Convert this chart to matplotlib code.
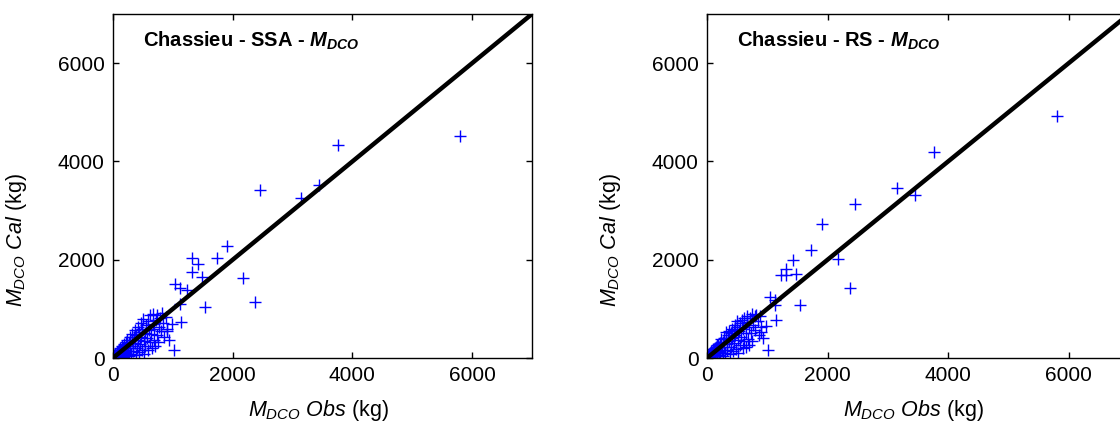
import numpy as np
import matplotlib.pyplot as plt

plt.rcParams['font.family'] = ['Liberation Sans', 'DejaVu Sans']
plt.rcParams['mathtext.fontset'] = 'custom'
plt.rcParams['mathtext.rm'] = 'Liberation Sans'
plt.rcParams['mathtext.it'] = 'Liberation Sans:italic'
plt.rcParams['mathtext.bf'] = 'Liberation Sans:bold'
plt.rcParams['mathtext.bfit'] = 'Liberation Sans:italic:bold'

## observed masses (kg) and the two calibrations
obs = [5, 10, 15, 20, 25, 30, 40, 45, 50, 60, 65, 70, 80, 85, 90, 100, 105, 110, 120, 125,
       130, 140, 150, 155, 160, 170, 180, 190, 195, 200, 210, 220, 230, 240, 250, 260, 270,
       280, 290, 300, 310, 320, 330, 340, 350, 360, 370, 380, 390, 400, 410, 420, 430, 440,
       450, 460, 470, 480, 490, 500, 510, 520, 530, 540, 550, 560, 580, 590, 600, 610, 620,
       640, 650, 660, 670, 680, 690, 700, 720, 730, 740, 750, 770, 790, 800, 820, 840, 860,
       880, 900, 902, 930, 985, 1013, 1141, 1040, 1120, 1230, 1120, 1315, 1426, 1315, 1482,
       1733, 1900, 2178, 2373, 1537, 2450, 3146, 3447, 3760, 5800]
cal_ssa = [10, 30, 5, 60, 15, 40, 90, 20, 70, 110, 30, 120, 50, 150, 80, 170, 40, 130, 200, 60,
           160, 90, 240, 110, 30, 210, 130, 280, 60, 170, 320, 100, 250, 360, 150, 40, 300,
           420, 200, 90, 360, 480, 250, 140, 430, 560, 310, 60, 470, 200, 640, 370, 120, 520,
           280, 720, 430, 170, 600, 800, 340, 80, 500, 250, 680, 410, 750, 170, 560, 330, 870,
           480, 200, 700, 900, 360, 600, 250, 780, 470, 880, 330, 640, 820, 540, 910, 720, 430,
           830, 600, 543, 373, 700, 170, 740, 1510, 1420, 1385, 1106, 2030, 1907, 1756, 1654,
           2029, 2285, 1622, 1146, 1032, 3426, 3263, 3514, 4330, 4520]
cal_rs = [15, 40, 8, 50, 20, 70, 80, 25, 100, 90, 40, 140, 60, 130, 110, 190, 50, 150, 180, 80,
          210, 100, 230, 140, 40, 260, 150, 270, 70, 220, 300, 130, 280, 380, 170, 50, 330,
          400, 230, 110, 400, 520, 280, 160, 470, 540, 340, 80, 500, 230, 600, 400, 150, 560,
          300, 680, 470, 190, 640, 760, 360, 100, 540, 270, 720, 430, 780, 200, 600, 350, 820,
          500, 220, 740, 860, 380, 640, 270, 820, 500, 900, 350, 680, 860, 570, 880, 760, 460,
          850, 640, 522, 407, 658, 170, 767, 1250, 1190, 1690, 1080, 1805, 1994, 1690, 1703,
          2198, 2720, 2008, 1418, 1079, 3141, 3460, 3324, 4190, 4920]

panels = [('SSA', cal_ssa), ('RS', cal_rs)]
positions = [[113/1120, 65/423, 419/1120, 344/423],
             [707/1120, 65/423, 422/1120, 344/423]]
lim = 7000

fig = plt.figure(figsize=(11.2, 4.23), dpi=100)

for (name, cal), pos in zip(panels, positions):
    ax = fig.add_axes(pos)
    ax.plot(obs, cal, '+', color='#0000ff', markersize=8, markeredgewidth=1.0)
    ax.plot([0, lim], [0, lim], 'k-', linewidth=3.2)
    ax.set_xlim(0, lim)
    ax.set_ylim(0, lim)
    ax.set_xticks([0, 2000, 4000, 6000])
    ax.set_yticks([0, 2000, 4000, 6000])
    ax.tick_params(direction='in', length=4, width=1, top=True, right=True,
                   labelsize=15, pad=6)
    for s in ax.spines.values():
        s.set_linewidth(1)
    ax.text(0.072, 0.905, 'Chassieu - ' + name + r' - $\mathbfit{M}_{\mathbfit{DCO}}$',
            transform=ax.transAxes, fontsize=14.5, fontweight='bold', va='baseline')
    ax.set_xlabel(r'$M_{DCO}$ $Obs$ (kg)', fontsize=15.5)
    ax.set_ylabel(r'$M_{DCO}$ $Cal$ (kg)', fontsize=15.5)
    ax.xaxis.set_label_coords(0.49, -0.117)
    ax.yaxis.set_label_coords(-0.2, 0.343)

fig.savefig('out.png', dpi=100)
